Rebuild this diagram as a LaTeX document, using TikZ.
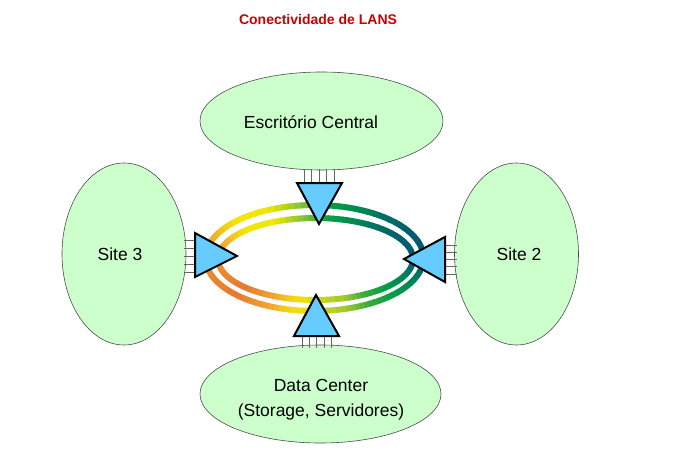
\documentclass[tikz,border=0pt]{standalone}
\usepackage{fontspec}
\setmainfont{Liberation Sans}
\usetikzlibrary{shapes.geometric}

\definecolor{sitegreen}{RGB}{204,255,204}
\definecolor{routerblue}{RGB}{102,204,255}
\definecolor{titlered}{RGB}{204,0,0}
% ring colours, by angle
\definecolor{rTeal}{RGB}{0,90,115}
\definecolor{rTealB}{RGB}{0,95,110}
\definecolor{rTealC}{RGB}{0,110,100}
\definecolor{rDkGreen}{RGB}{0,140,80}
\definecolor{rGreen}{RGB}{0,160,70}
\definecolor{rLime}{RGB}{130,195,50}
\definecolor{rYellow}{RGB}{240,230,0}
\definecolor{rYellowB}{RGB}{245,230,0}
\definecolor{rAmber}{RGB}{240,180,40}
\definecolor{rOrange}{RGB}{235,150,45}
\definecolor{rOrangeB}{RGB}{230,120,50}
\definecolor{rOrangeC}{RGB}{240,165,50}
\definecolor{rGold}{RGB}{245,225,10}
\definecolor{rLimeB}{RGB}{160,200,50}
\definecolor{rMidGreen}{RGB}{60,170,60}
\definecolor{rSea}{RGB}{0,130,90}

\begin{document}
\begin{tikzpicture}[x=1pt,y=-1pt,
	site/.style={ellipse,draw=black!70,line width=0.6pt,fill=sitegreen,inner sep=0pt},
	lbl/.style={font=\fontsize{17.5}{25}\selectfont,align=center},
	router/.style={fill=routerblue,draw=black,line width=2pt,line join=miter},
	port/.style={black!60,line width=0.8pt}]
	\useasboundingbox (0,0) rectangle (691,463);
	
	\node[font=\bfseries\fontsize{14}{17}\selectfont,text=titlered] (title) at (318,19) {Conectividade de LANS};
	
	% sites
	\node[site,minimum width=243pt,minimum height=98pt] (esc) at (321.5,121) {};
	\node[site,minimum width=124pt,minimum height=182pt] (s3) at (124,254) {};
	\node[site,minimum width=124pt,minimum height=182pt] (s2) at (516.5,254) {};
	\node[site,minimum width=241pt,minimum height=98pt] (dc) at (320.5,394) {};
	\node[lbl] (esclbl) at (311,122) {Escritório Central};
	\node[lbl] (s3lbl) at (120,254) {Site 3};
	\node[lbl] (s2lbl) at (519,254) {Site 2};
	\node[lbl] (dclbl) at (321,400) {Data Center\\(Storage, Servidores)};
	
	% ring
	\foreach \a/\b/\ca/\cb in {0/30/rTeal/rTealB,30/50/rTealB/rTealC,50/68/rTealC/rDkGreen,
		68/82/rDkGreen/rGreen,82/97/rGreen/rLime,97/115/rLime/rYellow,115/135/rYellow/rYellowB,
		135/155/rYellowB/rAmber,155/180/rAmber/rOrange,180/225/rOrange/rOrangeB,
		225/245/rOrangeB/rOrangeC,245/260/rOrangeC/rGold,260/287/rGold/rLimeB,
		287/300/rLimeB/rMidGreen,300/315/rMidGreen/rGreen,315/335/rGreen/rSea,335/360/rSea/rTeal}{
		\foreach \t in {0,...,4}{
			\pgfmathsetmacro\s{\a+(\b-\a)*\t/5}
			\pgfmathsetmacro\e{\a+(\b-\a)*(\t+1)/5+0.6}
			\pgfmathtruncatemacro\m{90-20*\t}
			\draw[line width=6pt,\ca!\m!\cb] plot[domain=\s:\e,samples=3,variable=\u] ({314.5+109*cos(\u)},{258-53*sin(\u)});
			\draw[line width=6pt,\ca!\m!\cb] plot[domain=\s:\e,samples=3,variable=\u] ({315.5+97.5*cos(\u)},{259-41*sin(\u)});
		}
	}
	
	% ports
	\foreach \k in {304,311.5,319,326.5,334}
		\draw[port] (\k,169) -- (\k,183);
	\foreach \k in {302,309,316.5,324,331}
		\draw[port] (\k,336) -- (\k,348);
	\foreach \k in {240,248,256,264,272}
		\draw[port] (184,\k) -- (195,\k);
	\foreach \k in {245,252,259,266,274}
		\draw[port] (445,\k) -- (457,\k);
	
	% routers
	\filldraw[router] (297,183) -- (342,183) -- (319,224) -- cycle;
	\filldraw[router] (294,336) -- (339,336) -- (316,295) -- cycle;
	\filldraw[router] (195,233) -- (237,256) -- (195,277) -- cycle;
	\filldraw[router] (445,237) -- (445,282) -- (404,259) -- cycle;
	
\end{tikzpicture}
\end{document}
